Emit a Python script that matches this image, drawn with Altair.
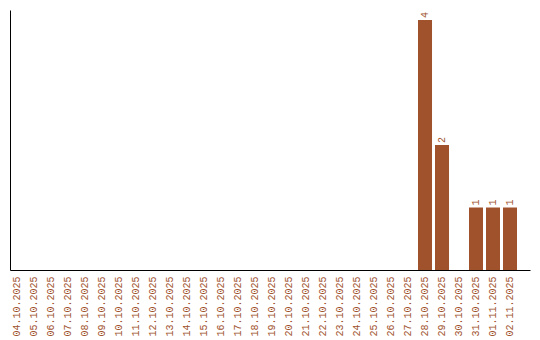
import altair as alt
import pandas as pd

dates = ["04.10.2025", "05.10.2025", "06.10.2025", "07.10.2025", "08.10.2025",
         "09.10.2025", "10.10.2025", "11.10.2025", "12.10.2025", "13.10.2025",
         "14.10.2025", "15.10.2025", "16.10.2025", "17.10.2025", "18.10.2025",
         "19.10.2025", "20.10.2025", "21.10.2025", "22.10.2025", "23.10.2025",
         "24.10.2025", "25.10.2025", "26.10.2025", "27.10.2025", "28.10.2025",
         "29.10.2025", "30.10.2025", "31.10.2025", "01.11.2025", "02.11.2025"]
counts = [0, 0, 0, 0, 0, 0, 0, 0, 0, 0, 0, 0, 0, 0, 0, 0, 0, 0, 0, 0,
          0, 0, 0, 0, 4, 2, 0, 1, 1, 1]

df = pd.DataFrame({"date": dates, "count": counts})
df["label"] = df["count"].apply(lambda v: str(v) if v > 0 else "")

FONT = "Liberation Mono"
COLOR = "#A0522D"

x = alt.X("date:N", sort=dates, title=None,
          scale=alt.Scale(paddingInner=0.176, paddingOuter=0.382, align=0),
          axis=alt.Axis(labelAngle=270, labelAlign="right", labelBaseline="middle",
                        labelFont=FONT, labelFontSize=10, labelColor=COLOR,
                        ticks=False, domainColor="black", labelPadding=6))
y = alt.Y("count:Q", title=None, scale=alt.Scale(domain=[0, 4.16], nice=False),
          axis=alt.Axis(labels=False, ticks=False, grid=False, domainColor="black"))

bars = alt.Chart(df).mark_bar(color=COLOR).encode(x=x, y=y)
text = alt.Chart(df).mark_text(angle=270, align="left", baseline="middle", dx=2,
                               font=FONT, fontSize=10, color=COLOR).encode(
    x=alt.X("date:N", sort=dates), y="count:Q", text="label:N")

chart = alt.layer(bars, text).properties(
    width=520, height=260,
    autosize=alt.AutoSizeParams(type="none"),
    padding={"left": 10, "top": 10, "right": 10, "bottom": 70},
).configure_view(stroke=None).configure_axis(domainWidth=1)

chart.save("out.html", embed_options={"renderer": "svg", "actions": False})
